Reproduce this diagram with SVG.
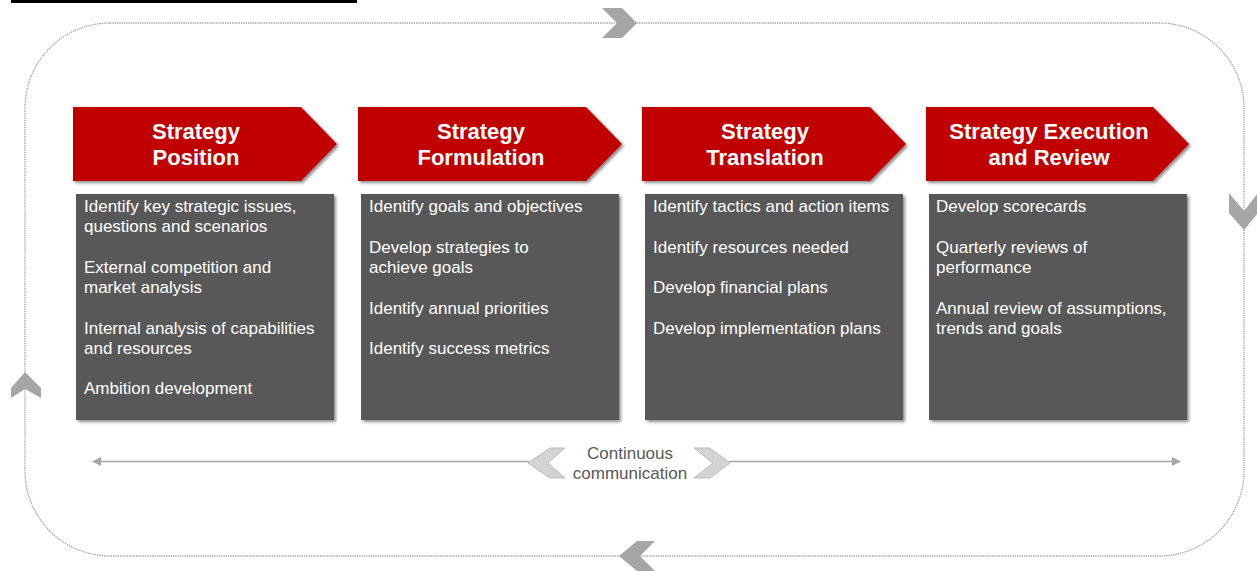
<svg xmlns="http://www.w3.org/2000/svg" width="1257" height="571" viewBox="0 0 1257 571">
<defs>
<style>
.hdr{fill:#C00000}
.body{fill:#595959}
.ht{font-family:"Liberation Sans",Arial,sans-serif;font-size:22px;font-weight:bold;fill:#fff;text-anchor:middle}
.bt{font-family:"Liberation Sans",Arial,sans-serif;font-size:17px;fill:#fff}
.cc{font-family:"Liberation Sans",Arial,sans-serif;font-size:17px;fill:#595959;text-anchor:middle}
.chev{fill:#a6a6a6}
.lchev{fill:#d4d4d4;stroke:#bcbcbc;stroke-width:1}
</style>
<filter id="sh" x="-5%" y="-5%" width="115%" height="120%">
<feGaussianBlur in="SourceAlpha" stdDeviation="1.5"/>
<feOffset dx="2" dy="2" result="o"/>
<feComponentTransfer><feFuncA type="linear" slope="0.45"/></feComponentTransfer>
<feMerge><feMergeNode/><feMergeNode in="SourceGraphic"/></feMerge>
</filter>
<marker id="ah" viewBox="0 0 10 10" refX="9" refY="5" markerWidth="6" markerHeight="6" orient="auto-start-reverse" markerUnits="userSpaceOnUse">
<path d="M0,0 L10,5 L0,10 z" fill="#a6a6a6"/>
</marker>
<marker id="ahr" viewBox="0 0 10 10" refX="9" refY="5" markerWidth="12" markerHeight="9" orient="auto-start-reverse" markerUnits="userSpaceOnUse">
<path d="M0,0 L10,5 L0,10 z" fill="#a6a6a6"/>
</marker>
</defs>
<rect x="0" y="0" width="1257" height="571" fill="#fff"/>
<rect x="11" y="0" width="346" height="3" fill="#000"/>

<g id="cycle">
<rect x="25" y="23" width="1219" height="533" rx="85" ry="85" fill="none" stroke="#a0a0a0" stroke-width="1.3" stroke-dasharray="1.3 1"/>
<path class="chev" d="M602,8 L622,8 L637,23 L622,38 L602,38 L617,23 Z"/>
<path class="chev" d="M1229,193 L1244,211 L1258,193 L1258,213 L1244,230 L1229,213 Z"/>
<path class="chev" d="M25,372 L41,388 L41,398 L25,389 L11,398 L11,388 Z"/>
<path class="chev" d="M619,556 L637,541 L655,541 L640,556 L655,571 L637,571 Z"/>
</g>

<g id="connectors">
<line x1="93" y1="461.5" x2="529" y2="461.5" stroke="#a6a6a6" stroke-width="1.5" marker-start="url(#ahr)"/>
<line x1="729" y1="461.5" x2="1180" y2="461.5" stroke="#a6a6a6" stroke-width="1.5" marker-end="url(#ahr)"/>
<path class="lchev" d="M528,463 L550,448 L565,448 L548,463 L565,478 L550,478 Z"/>
<path class="lchev" d="M694,448 L710,448 L730,463 L710,478 L694,478 L713,463 Z"/>
<text class="cc" x="630" y="459">Continuous</text>
<text class="cc" x="630" y="479">communication</text>
</g>

<g id="node-position">
<path class="hdr" filter="url(#sh)" d="M73,107 L301,107 L337,144 L301,181 L73,181 Z"/>
<text class="ht" x="196" y="139">Strategy</text>
<text class="ht" x="196" y="165">Position</text>
<rect class="body" filter="url(#sh)" x="76" y="194" width="258" height="226"/>
<text class="bt" x="84" y="212">Identify key strategic issues,</text>
<text class="bt" x="84" y="232">questions and scenarios</text>
<text class="bt" x="84" y="273">External competition and</text>
<text class="bt" x="84" y="293">market analysis</text>
<text class="bt" x="84" y="333.5">Internal analysis of capabilities</text>
<text class="bt" x="84" y="354">and resources</text>
<text class="bt" x="84" y="394">Ambition development</text>
</g>

<g id="node-formulation">
<path class="hdr" filter="url(#sh)" d="M358,107 L586,107 L622,144 L586,181 L358,181 Z"/>
<text class="ht" x="481" y="139">Strategy</text>
<text class="ht" x="481" y="165">Formulation</text>
<rect class="body" filter="url(#sh)" x="361" y="194" width="258" height="226"/>
<text class="bt" x="369" y="212">Identify goals and objectives</text>
<text class="bt" x="369" y="252.5">Develop strategies to</text>
<text class="bt" x="369" y="273">achieve goals</text>
<text class="bt" x="369" y="313.5">Identify annual priorities</text>
<text class="bt" x="369" y="354">Identify success metrics</text>
</g>

<g id="node-translation">
<path class="hdr" filter="url(#sh)" d="M642,107 L870,107 L906,144 L870,181 L642,181 Z"/>
<text class="ht" x="765" y="139">Strategy</text>
<text class="ht" x="765" y="165">Translation</text>
<rect class="body" filter="url(#sh)" x="645" y="194" width="258" height="226"/>
<text class="bt" x="653" y="212">Identify tactics and action items</text>
<text class="bt" x="653" y="252.5">Identify resources needed</text>
<text class="bt" x="653" y="293">Develop financial plans</text>
<text class="bt" x="653" y="333.5">Develop implementation plans</text>
</g>

<g id="node-execution">
<path class="hdr" filter="url(#sh)" d="M926,107 L1153,107 L1189,144 L1153,181 L926,181 Z"/>
<text class="ht" x="1049" y="139">Strategy Execution</text>
<text class="ht" x="1049" y="165">and Review</text>
<rect class="body" filter="url(#sh)" x="929" y="194" width="258" height="226"/>
<text class="bt" x="936" y="212">Develop scorecards</text>
<text class="bt" x="936" y="252.5">Quarterly reviews of</text>
<text class="bt" x="936" y="273">performance</text>
<text class="bt" x="936" y="313.5">Annual review of assumptions,</text>
<text class="bt" x="936" y="333.5">trends and goals</text>
</g>
</svg>
